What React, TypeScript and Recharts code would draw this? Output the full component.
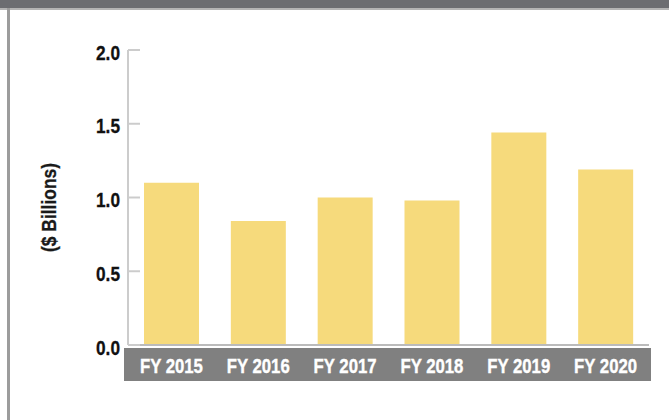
import React from 'react';
import { BarChart, Bar, XAxis, YAxis } from 'recharts';

const categories = ['FY 2015', 'FY 2016', 'FY 2017', 'FY 2018', 'FY 2019', 'FY 2020'];
const values = [1.1, 0.84, 1.0, 0.98, 1.44, 1.19];
const yTicks = [0, 0.5, 1.0, 1.5, 2.0];
const yLabel = '($ Billions)';

const data = categories.map((c, i) => ({ name: c, value: values[i] }));

const FONT = '"Liberation Sans", Arial, sans-serif';

const XTick = (props: any) => {
  const { x, y, payload } = props;
  return (
    <text
      x={x}
      y={y}
      dy={28}
      textAnchor="middle"
      fill="#ffffff"
      stroke="#ffffff"
      strokeWidth={0.4}
      fontFamily={FONT}
      fontWeight="bold"
      fontSize={21}
      textLength={63}
      lengthAdjust="spacingAndGlyphs"
    >
      {payload.value}
    </text>
  );
};

const YTick = (props: any) => {
  const { x, y, payload } = props;
  return (
    <g>
      <line x1={x + 8} x2={x + 20} y1={y} y2={y} stroke="#cccccc" strokeWidth={2} />
      <text
        x={x}
        y={y}
        dy={9.5}
        textAnchor="end"
        fill="#111111"
        stroke="#111111"
        strokeWidth={0.3}
        fontFamily={FONT}
        fontWeight="bold"
        fontSize={21}
        textLength={24}
        lengthAdjust="spacingAndGlyphs"
      >
        {Number(payload.value).toFixed(1)}
      </text>
    </g>
  );
};

const YLabel = (props: any) => {
  const { viewBox } = props;
  const cx = 48;
  const cy = viewBox.y + viewBox.height / 2 + 10;
  return (
    <text
      x={cx}
      y={cy}
      transform={`rotate(-90 ${cx} ${cy})`}
      textAnchor="middle"
      dominantBaseline="central"
      fill="#1a1a1a"
      stroke="#1a1a1a"
      strokeWidth={0.3}
      fontFamily={FONT}
      fontWeight="bold"
      fontSize={21}
      textLength={89}
      lengthAdjust="spacingAndGlyphs"
    >
      {yLabel}
    </text>
  );
};

export default function App() {
  return (
    <div style={{ position: 'absolute', left: 0, top: 0, width: 669, height: 420, background: '#ffffff', overflow: 'hidden' }}>
      <div style={{ position: 'absolute', left: 0, top: 0, width: 669, height: 8, background: '#6c6d71' }} />
      <div style={{ position: 'absolute', left: 0, top: 8, width: 669, height: 2, background: '#b4b4b4' }} />
      <div style={{ position: 'absolute', left: 7, top: 8, width: 3, height: 412, background: '#9c9c9c' }} />
      <div style={{ position: 'absolute', left: 124, top: 348, width: 527, height: 33, background: '#808080' }} />
      <div style={{ position: 'absolute', left: 0, top: 0 }}>
        <BarChart width={669} height={420} data={data} margin={{ top: 50, right: 20, bottom: 39, left: 0 }}>
          <XAxis
            dataKey="name"
            height={36}
            tickLine={false}
            tickSize={0}
            tickMargin={0}
            axisLine={{ stroke: '#bbbbbb', strokeWidth: 2 }}
            tick={<XTick />}
            interval={0}
          />
          <YAxis
            width={128}
            domain={[0, 2]}
            ticks={yTicks}
            tickLine={false}
            tickSize={0}
            tickMargin={8}
            axisLine={{ stroke: '#cccccc', strokeWidth: 2 }}
            tick={<YTick />}
            interval={0}
            label={<YLabel />}
          />
          <Bar dataKey="value" fill="#f6da7c" barSize={55} isAnimationActive={false} />
        </BarChart>
      </div>
    </div>
  );
}
